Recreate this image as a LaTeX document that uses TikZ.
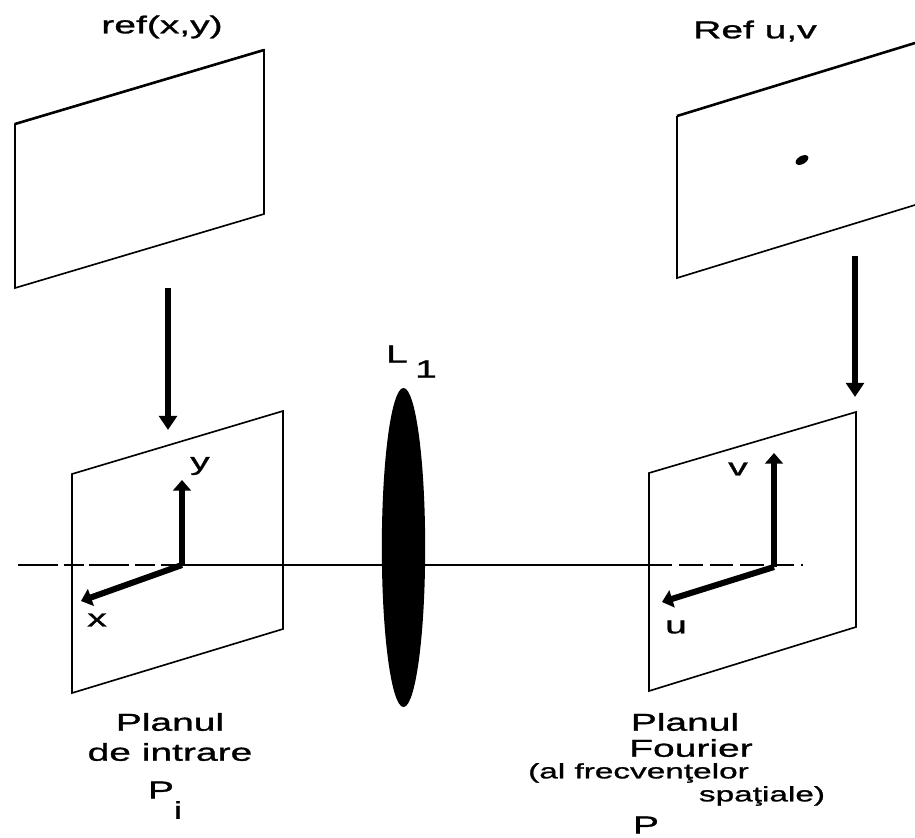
\documentclass[tikz,border=0pt]{standalone}
\usepackage{fontspec}
\setmainfont[FakeStretch=1.6, FakeBold=1.2]{Liberation Sans}
\usetikzlibrary{positioning, arrows.meta, shapes.geometric}

\begin{document}
\begin{tikzpicture}[
    x=0.03cm, y=-0.03cm,
    plane/.style={draw, line width=1.4pt, line join=miter},
    heavy/.style={draw, line width=2.2pt, line join=miter},
    ray/.style={-{Triangle[length=12pt, width=15pt]}, line width=5pt},
    axis/.style={-{Triangle[length=9pt, width=15pt]}, line width=5.2pt},
    optic/.style={line width=1.3pt},
    lbl/.style={font=\fontsize{20.8}{24}\selectfont, inner sep=0pt},
    sm/.style={font=\fontsize{17.8}{20}\selectfont, inner sep=0pt}
]
    \useasboundingbox (0,0) rectangle (915,838);

    % object planes
    \draw[plane] (15,124) -- (264,50) -- (264,214) -- (15,288) -- cycle;
    \draw[heavy] (15,124) -- (264,50);
    \draw[plane] (677,116) -- (677,278) -- (915,205);
    \draw[heavy] (677,116) -- (915,43);
    \fill[rotate around={30:(802,160)}] (802,160) ellipse (7 and 4);

    % input and Fourier planes
    \draw[plane] (72,474) -- (283,411) -- (283,629) -- (72,693) -- cycle;
    \draw[plane] (649,473) -- (856,412) -- (856,627) -- (649,691) -- cycle;
    \draw[heavy] (856,412) -- (856,627);

    \coordinate (refa) at (168,288);
    \coordinate (ina) at (168,430);
    \coordinate (refb) at (855,256);
    \coordinate (inb) at (855,397);
    \draw[ray] (refa) -- (ina);
    \draw[ray] (refb) -- (inb);

    % optical axis
    \coordinate (start) at (18,565);
    \coordinate (oxy) at (182,565);
    \coordinate (ouv) at (774,567);
    \coordinate (fin) at (803,565);
    \coordinate (cross) at (649,565);
    \draw[optic, dash pattern=on 34pt off 5pt on 17pt off 5pt] (start) -- (oxy);
    \draw[optic] (oxy) -- (cross);
    \draw[optic, dash pattern=on 20pt off 6pt] (cross) -- (fin);
    \node[ellipse, fill=black, inner sep=0pt, minimum width=1.3cm, minimum height=9.57cm] (lens) at (403.5,547.5) {};

    % axes
    \coordinate (ytip) at (182,480);
    \coordinate (xtip) at (81,601);
    \coordinate (vtip) at (774,453);
    \coordinate (utip) at (662,602);
    \draw[axis] (oxy) -- (ytip);
    \draw[axis] (oxy) -- (xtip);
    \draw[axis] (ouv) -- (vtip);
    \draw[axis] (ouv) -- (utip);

    \node[lbl] (yl) at (200,466) {y};
    \node[lbl] (xl) at (97,620) {x};
    \node[lbl] (vl) at (738,469) {v};
    \node[lbl] (ul) at (676,627) {u};

    % labels
    \node[lbl] (refxy) at (162,27) {ref(x,y)};
    \node[lbl] (refuv) at (755,31) {Ref u,v};
    \node[lbl] (lname) at (397,354) {L};
    \node[lbl] (lsub) at (426,369) {1};

    \node[lbl] (inplane) at (170,722) {Planul};
    \node[lbl] (intrare) at (170,752) {de intrare};
    \node[lbl] (pi) at (161,790) {P};
    \node[lbl] (pisub) at (178,810) {i};

    \node[lbl] (fplane) at (685,722) {Planul};
    \node[lbl] (fourier) at (691,748) {Fourier};
    \node[sm] (frecv) at (638.5,773) {(al frecvenţelor};
    \node[sm] (spatial) at (762,796) {spaţiale)};
    \node[lbl] (pf) at (646,825) {P};
\end{tikzpicture}
\end{document}
